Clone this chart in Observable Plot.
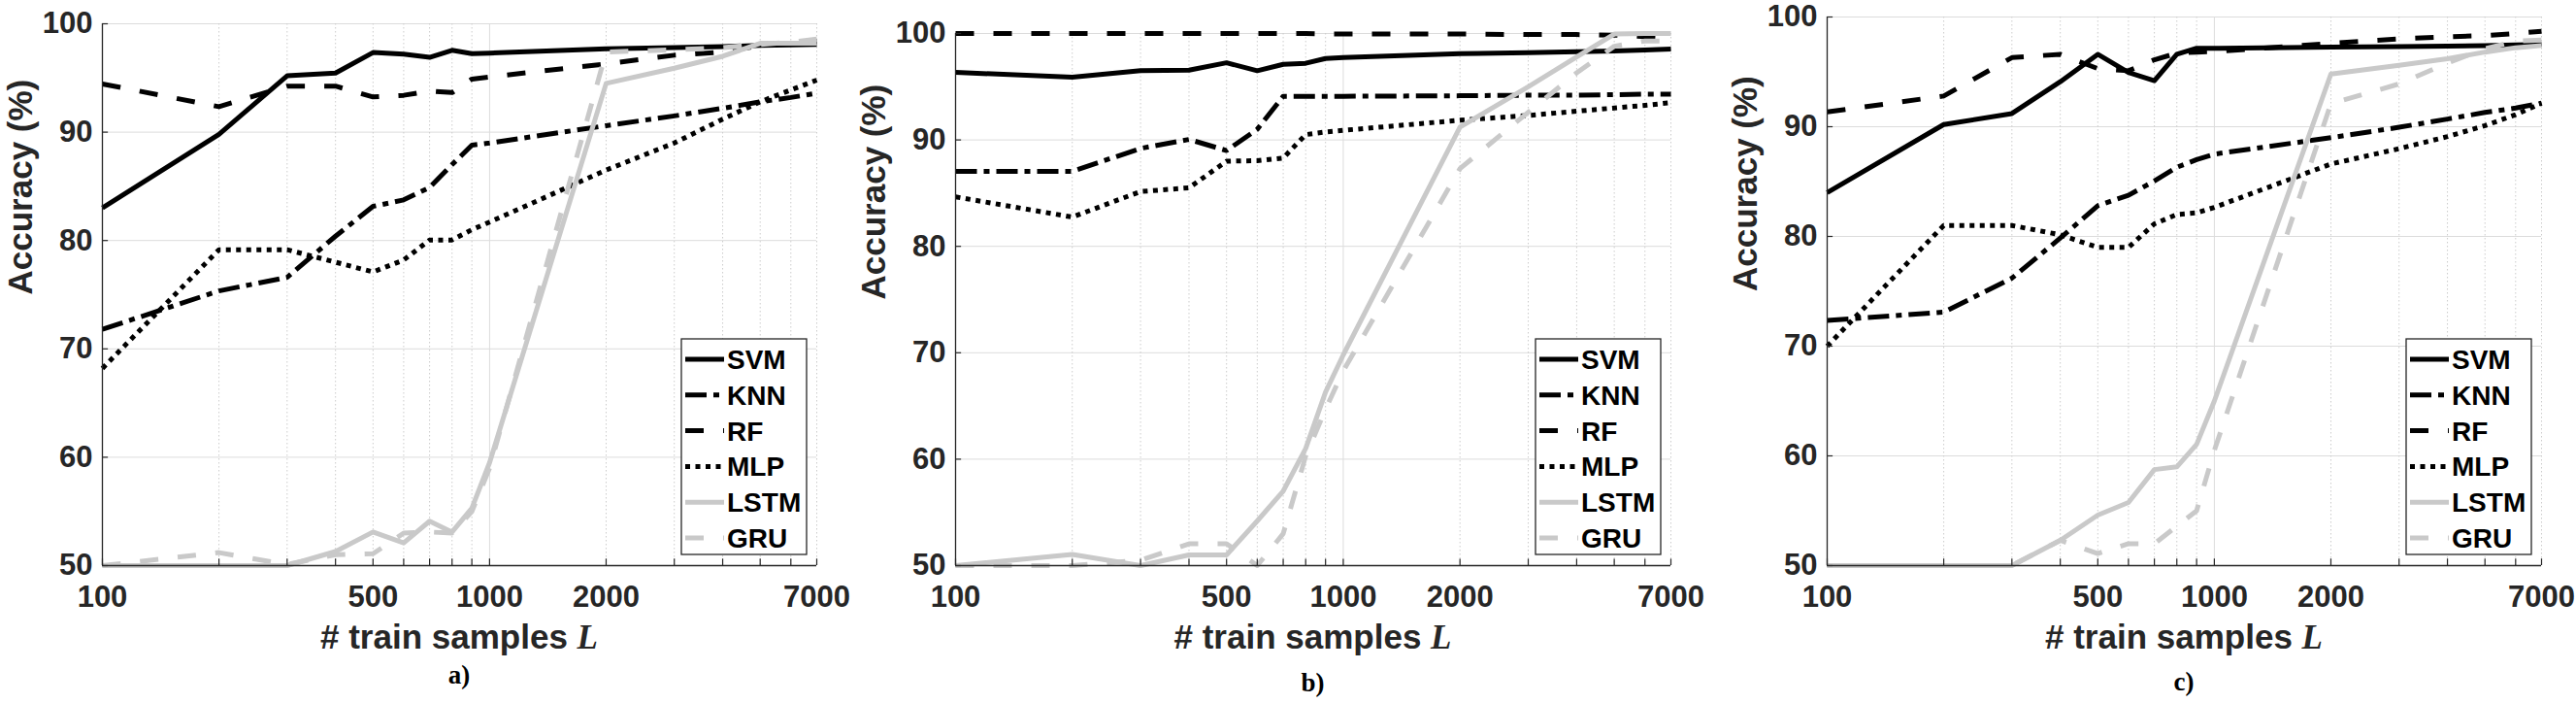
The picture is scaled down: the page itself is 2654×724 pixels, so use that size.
<!DOCTYPE html>
<html>
<head>
<meta charset="utf-8">
<script src="https://cdn.jsdelivr.net/npm/d3@7"></script>
<script src="https://cdn.jsdelivr.net/npm/@observablehq/plot@0.6"></script>
<style>
html, body { margin: 0; padding: 0; background: #fff; }
#fig { position: relative; width: 2654px; height: 724px; overflow: hidden; background: #fff; }
#fig svg { position: absolute; top: 0; }
</style>
</head>
<body>
<div id="fig"></div>
<script>
// ---------------- data ----------------
const samples = [100, 200, 300, 400, 500, 600, 700, 800, 900, 1000, 2000, 3000, 4000, 5000, 6000, 7000];
const xTickLabels = [100, 500, 1000, 2000, 7000];
const xMajorGrid = [100, 1000];
const xMinorGrid = [200, 300, 400, 500, 600, 700, 800, 900, 2000, 3000, 4000, 5000, 6000, 7000];
const yTicks = [50, 60, 70, 80, 90, 100];
const methods = ["SVM", "KNN", "RF", "MLP", "LSTM", "GRU"];
const captions = ["a)", "b)", "c)"];

// panel a)
const a_SVM  = [83.0, 89.8, 95.2, 95.45, 97.35, 97.2, 96.9, 97.55, 97.25, 97.3, 97.7, 97.8, 97.9, 98.0, 98.05, 98.1];
const a_KNN  = [71.8, 75.35, 76.6, 80.4, 83.15, 83.75, 84.9, 87.0, 88.8, 89.0, 90.6, 91.5, 92.2, 92.8, 93.2, 93.6];
const a_RF   = [94.45, 92.35, 94.25, 94.25, 93.25, 93.4, 93.8, 93.65, 94.9, 95.1, 96.3, 97.1, 97.4, 98.0, 98.2, 98.4];
const a_MLP  = [68.2, 79.15, 79.15, 78.0, 77.1, 78.2, 80.05, 80.05, 81.0, 81.7, 86.5, 89.0, 91.2, 92.8, 93.9, 94.8];
const a_LSTM = [50.0, 50.0, 50.0, 51.3, 53.1, 52.1, 54.1, 53.1, 55.3, 59.5, 94.5, 95.9, 97.0, 98.2, 98.2, 98.2];
const a_GRU  = [50.0, 51.2, 50.1, 51.0, 51.1, 53.0, 53.1, 53.0, 55.0, 59.0, 97.4, 97.6, 97.8, 98.1, 98.3, 98.6];

// panel b)
const b_SVM  = [96.35, 95.9, 96.5, 96.55, 97.25, 96.5, 97.1, 97.2, 97.65, 97.75, 98.1, 98.2, 98.3, 98.35, 98.45, 98.55];
const b_KNN  = [87.05, 87.05, 89.2, 90.05, 89.0, 91.0, 94.1, 94.1, 94.1, 94.1, 94.15, 94.2, 94.2, 94.25, 94.3, 94.3];
const b_RF   = [100, 100, 100, 100, 100, 100, 100, 100, 99.95, 99.95, 99.95, 99.9, 99.9, 99.85, 99.7, 99.6];
const b_MLP  = [84.65, 82.75, 85.15, 85.5, 88.0, 88.05, 88.3, 90.5, 90.75, 90.9, 91.85, 92.3, 92.7, 93.0, 93.25, 93.5];
const b_LSTM = [50.0, 51.05, 50.0, 51.0, 51.0, 54.2, 57.0, 61.0, 66.3, 69.8, 91.2, 95.0, 97.8, 99.95, 100, 100];
const b_GRU  = [50.0, 50.0, 50.5, 52.05, 52.05, 50.0, 53.0, 60.3, 64.7, 68.3, 87.3, 92.6, 96.3, 98.8, 99.3, 99.3];

// panel c)
const c_SVM  = [84.0, 90.2, 91.2, 94.1, 96.6, 94.95, 94.2, 96.6, 97.15, 97.15, 97.25, 97.3, 97.35, 97.4, 97.45, 97.5];
const c_KNN  = [72.35, 73.1, 76.2, 79.85, 82.8, 83.75, 85.05, 86.3, 87.0, 87.5, 89.0, 89.95, 90.7, 91.3, 91.7, 92.15];
const c_RF   = [91.35, 92.8, 96.3, 96.6, 95.3, 95.1, 96.1, 96.7, 96.8, 96.85, 97.6, 98.0, 98.2, 98.3, 98.5, 98.7];
const c_MLP  = [70.0, 81.0, 81.0, 80.15, 79.0, 79.0, 81.15, 82.0, 82.15, 82.65, 86.6, 88.0, 89.1, 90.1, 91.1, 92.15];
const c_LSTM = [50.0, 50.0, 50.0, 52.3, 54.6, 55.75, 58.75, 59.0, 61.05, 65.0, 94.8, 95.6, 96.2, 96.8, 97.2, 97.4];
const c_GRU  = [50.0, 50.0, 50.0, 52.3, 51.1, 52.0, 52.0, 53.6, 55.0, 60.5, 92.1, 93.9, 95.8, 97.1, 97.8, 97.9];

// ---------------- styles ----------------
const SANS = "'Liberation Sans', Arial, Helvetica, sans-serif";
const SERIF = "'Liberation Serif', 'Times New Roman', serif";
const INK = "#262626";
const GREY = "#c9c9c9";
const LW = 5;
const lineStyle = {
  SVM:  {stroke: "#000", dash: null},
  KNN:  {stroke: "#000", dash: "22,7,6,7"},
  RF:   {stroke: "#000", dash: "19,20"},
  MLP:  {stroke: "#000", dash: "5,5.5"},
  LSTM: {stroke: GREY, dash: null},
  GRU:  {stroke: GREY, dash: "19,20"}
};

// layout of the three panels (svg left offset, margins)
const panels = [
  {series: {SVM: a_SVM, KNN: a_KNN, RF: a_RF, MLP: a_MLP, LSTM: a_LSTM, GRU: a_GRU},
   left: 0, ml: 105, mr: 40, width: 881, top: 24, bottom: 582, capY: 704},
  {series: {SVM: b_SVM, KNN: b_KNN, RF: b_RF, MLP: b_MLP, LSTM: b_LSTM, GRU: b_GRU},
   left: 884, ml: 100, mr: 40, width: 877, top: 34, bottom: 582, capY: 712},
  {series: {SVM: c_SVM, KNN: c_KNN, RF: c_RF, MLP: c_MLP, LSTM: c_LSTM, GRU: c_GRU},
   left: 1782, ml: 100, mr: 36, width: 872, top: 17, bottom: 582, capY: 711}
];

const H = 724;
const fig = document.getElementById("fig");

panels.forEach((p, pi) => {
  const lineMarks = methods.map(m => {
    const rows = samples.map((x, i) => ({x, y: p.series[m][i]}));
    return Plot.line(rows, {
      x: "x", y: "y",
      stroke: lineStyle[m].stroke,
      strokeWidth: LW,
      strokeDasharray: lineStyle[m].dash,
      strokeLinejoin: "round",
      strokeLinecap: "butt"
    });
  });

  const svg = Plot.plot({
    width: p.width,
    height: H,
    marginLeft: p.ml,
    marginRight: p.mr,
    marginTop: p.top,
    marginBottom: H - p.bottom,
    style: `background: white; font-family: ${SANS}; overflow: visible;`,
    x: {type: "log", domain: [100, 7000], label: null, axis: null},
    y: {domain: [50, 100], label: null, axis: null},
    marks: [
      Plot.ruleY(yTicks, {stroke: "#dcdcdc", strokeWidth: 1}),
      Plot.ruleX(xMajorGrid, {stroke: "#dcdcdc", strokeWidth: 1}),
      Plot.ruleX(xMinorGrid, {stroke: "#cccccc", strokeWidth: 1, strokeDasharray: "1.5,2.5"}),
      ...lineMarks,
      Plot.ruleX([100], {stroke: INK, strokeWidth: 1.3}),
      Plot.ruleY([50], {stroke: INK, strokeWidth: 1.3}),
      Plot.ruleX([...xMajorGrid, ...xMinorGrid], {y1: 50, y2: 50.6, stroke: INK, strokeWidth: 1.2}),
      Plot.ruleY(yTicks, {x1: 100, x2: 103.6, stroke: INK, strokeWidth: 1.2}),
      // x tick labels
      Plot.text(xTickLabels, {
        x: d => d, y: 50, text: d => String(d),
        lineAnchor: "top", dy: 20, textAnchor: "middle",
        fontSize: 31, fontWeight: "bold", fill: INK, fontFamily: SANS
      }),
      // y tick labels
      Plot.text(yTicks, {
        x: 100, y: d => d, text: d => String(d),
        textAnchor: "end", dx: -10,
        fontSize: 31, fontWeight: "bold", fill: INK, fontFamily: SANS
      }),
      Plot.text(["Accuracy (%)"], {
        frameAnchor: "left", dx: -84, rotate: -90, text: d => d,
        fontSize: 35, fontWeight: "bold", fill: INK, fontFamily: SANS
      })
    ]
  });
  svg.style.left = p.left + "px";
  fig.appendChild(svg);

  const xs = svg.scale("x"), ys = svg.scale("y");
  const fx0 = xs.range[0], fx1 = xs.range[1];
  const fy1 = ys.range[0];
  const cx = (fx0 + fx1) / 2;
  const root = d3.select(svg).append("g");

  // x label with italic serif L
  const xl = root.append("text")
    .attr("x", cx).attr("y", fy1 + 86)
    .attr("text-anchor", "middle")
    .attr("font-family", SANS).attr("font-weight", "bold")
    .attr("font-size", 35).attr("fill", INK);
  xl.append("tspan").text("# train samples ");
  xl.append("tspan").attr("font-family", SERIF).attr("font-style", "italic").text("L");

  // caption
  root.append("text")
    .attr("x", cx).attr("y", p.capY)
    .attr("text-anchor", "middle")
    .attr("font-family", SERIF).attr("font-weight", "bold")
    .attr("font-size", 27).attr("fill", "#000")
    .text(captions[pi]);

  // legend
  const bw = 129, bh = 222;
  const bx = fx1 - 10 - bw, by = fy1 - 11 - bh;
  const lg = root.append("g");
  lg.append("rect").attr("x", bx).attr("y", by).attr("width", bw).attr("height", bh)
    .attr("fill", "#fff").attr("stroke", INK).attr("stroke-width", 1.3);
  methods.forEach((m, i) => {
    const yy = by + 21 + i * 36.8;
    lg.append("line").attr("x1", bx + 4).attr("x2", bx + 44).attr("y1", yy).attr("y2", yy)
      .attr("stroke", lineStyle[m].stroke).attr("stroke-width", LW)
      .attr("stroke-dasharray", lineStyle[m].dash);
    lg.append("text").attr("x", bx + 47).attr("y", yy).attr("dy", "0.36em")
      .attr("text-anchor", "start")
      .attr("font-family", SANS).attr("font-weight", "bold").attr("font-size", 28)
      .attr("fill", "#000").text(m);
  });
});
</script>
</body>
</html>
